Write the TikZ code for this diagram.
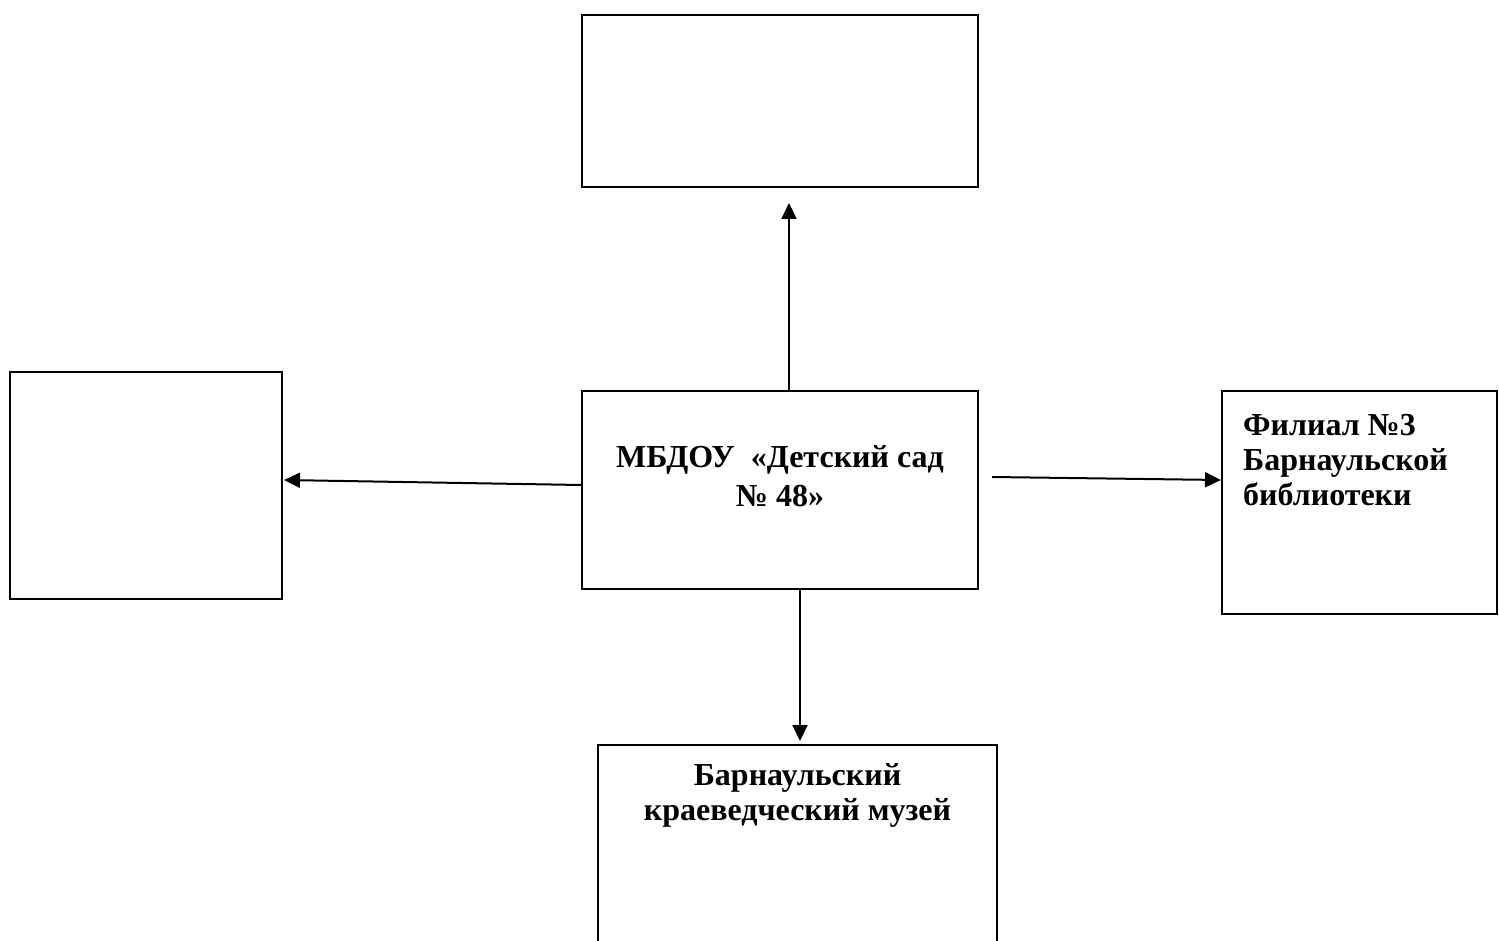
\documentclass[tikz,border=0pt]{standalone}
\usepackage{fontspec}
\setmainfont{Liberation Serif}
\usetikzlibrary{arrows.meta,calc}
\begin{document}
\begin{tikzpicture}[x=1pt,y=-1pt,
  box/.style={draw, line width=2pt, inner sep=0pt},
  lbl/.style={font=\fontsize{32}{35}\selectfont\bfseries, inner sep=0pt},
  conn/.style={line width=2pt, -{Triangle[length=16pt,width=15pt]}}]
\useasboundingbox (0,0) rectangle (1499,941);
\clip (0,0) rectangle (1499,941);
\node[box, minimum width=396pt, minimum height=172pt] (t) at (780,101) {};
\node[box, minimum width=272pt, minimum height=227pt] (l) at (146,485.5) {};
\node[box, minimum width=396pt, minimum height=198pt] (c) at (780,490) {};
\node[box, minimum width=275pt, minimum height=223pt] (r) at (1359.5,502.5) {};
\node[box, minimum width=399pt, minimum height=215pt] (b) at (797.5,852.5) {};
\node[lbl, anchor=base, align=center, font=\fontsize{32}{39}\selectfont\bfseries] (ct) at (780,506) {МБДОУ\ \ «Детский сад\\№ 48»};
\node[lbl, anchor=base west, align=left] (rt) at (1243,505) {Филиал №3\\Барнаульской\\библиотеки};
\node[lbl, anchor=base, align=center] (bt) at (797.5,820) {Барнаульский\\краеведческий музей};
\coordinate (upend) at (789,203);
\draw[conn] ($(c.north)+(9,0)$) -- (upend);
\draw[conn] ($(c.west)+(0,-5)$) -- ($(l.east)+(1,-5.5)$);
\draw[conn] ($(c.east)+(13,-13)$) -- ($(r.west)+(0,-22.5)$);
\draw[conn] ($(c.south)+(20,0)$) -- ($(b.north)+(2.5,-3)$);
\end{tikzpicture}
\end{document}
